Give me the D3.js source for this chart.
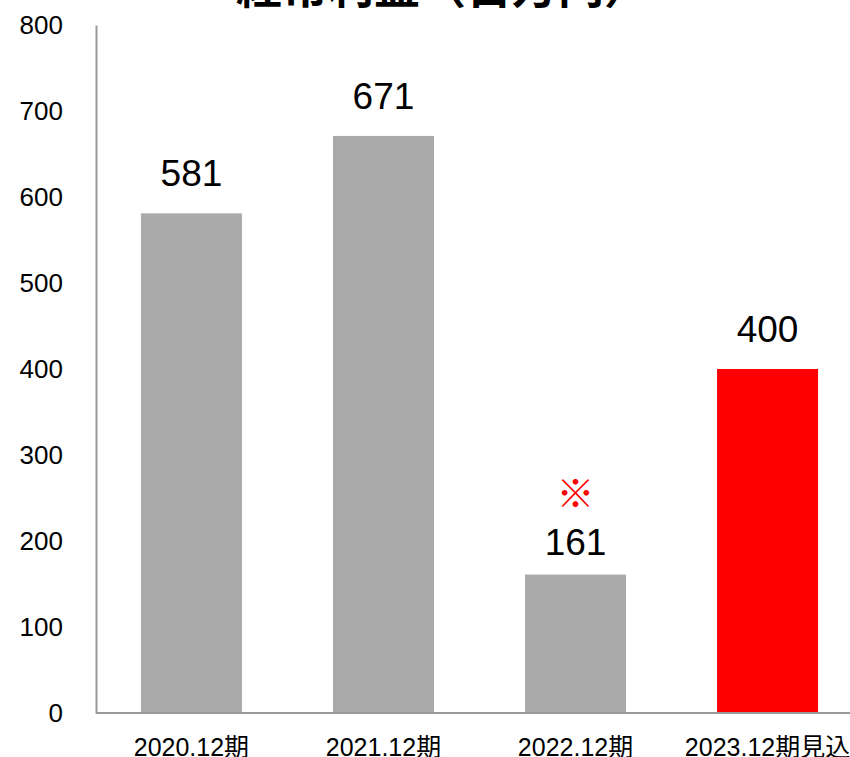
<!DOCTYPE html>
<html><head><meta charset="utf-8">
<script src="https://cdn.jsdelivr.net/npm/d3@7"></script>
<style>
html,body{margin:0;padding:0;background:#fff;overflow:hidden;}
text{font-family:"Liberation Sans",Arial,"Noto Sans CJK JP",sans-serif;}
</style></head>
<body>
<svg id="c" width="850" height="757"></svg>
<script>
const title = "経常利益（百万円）";
const categories = ["2020.12期", "2021.12期", "2022.12期", "2023.12期見込"];
const values = [581, 671, 161, 400];
const notes = ["", "", "※", ""];
const forecast = [false, false, false, true];
const yTicks = [0, 100, 200, 300, 400, 500, 600, 700, 800];

const svg = d3.select("#c");
const x = d3.scaleBand().domain(categories).range([96, 863]).paddingInner(0.474).paddingOuter(0.234);
const y = d3.scaleLinear().domain([0, 800]).range([713, 25]);

// title (clipped at top as in reference)
svg.append("text").attr("x", 236).attr("y", 3)
  .attr("font-family", "'Noto Sans CJK JP',sans-serif").attr("font-weight", "bold")
  .attr("font-size", 46).attr("fill", "#000").text(title);

// bars
svg.selectAll("rect.bar").data(values).enter().append("rect")
  .attr("x", (d, i) => x(categories[i]))
  .attr("y", d => y(d))
  .attr("width", x.bandwidth())
  .attr("height", d => y(0) - y(d))
  .attr("fill", (d, i) => forecast[i] ? "#ff0000" : "#aaaaaa");

// y axis
const yAxis = svg.append("g").attr("transform", "translate(96,0)")
  .call(d3.axisLeft(y).tickValues(yTicks).tickSize(0).tickPadding(33));
yAxis.select(".domain").attr("stroke", "#999").attr("stroke-width", 2);
yAxis.selectAll("text").attr("font-size", 26).attr("fill", "#000")
  .attr("font-family", "'Liberation Sans',Arial,sans-serif");

// x axis
const xAxis = svg.append("g").attr("transform", "translate(0,713)")
  .call(d3.axisBottom(x).tickSize(0).tickPadding(25));
xAxis.select(".domain").attr("d", "M96,0H850").attr("stroke", "#999").attr("stroke-width", 2);
xAxis.selectAll("text").attr("font-size", 25).attr("fill", "#000")
  .attr("font-family", "'Liberation Sans',Arial,'Noto Sans CJK JP',sans-serif");

// value labels
svg.selectAll("text.val").data(values).enter().append("text")
  .attr("class", "val")
  .attr("x", (d, i) => x(categories[i]) + x.bandwidth() / 2)
  .attr("y", (d, i) => y(d) - (notes[i] ? 20 : 27))
  .attr("text-anchor", "middle").attr("font-size", 37).attr("fill", "#000")
  .text(d => d);

// note marks
svg.selectAll("text.note").data(notes).enter().append("text")
  .attr("class", "note")
  .attr("x", (d, i) => x(categories[i]) + x.bandwidth() / 2)
  .attr("y", (d, i) => y(values[i]) - 68)
  .attr("text-anchor", "middle").attr("font-size", 38).attr("fill", "#ff0000")
  .attr("font-family", "'Noto Sans CJK JP',sans-serif")
  .text(d => d);
</script>
</body></html>
